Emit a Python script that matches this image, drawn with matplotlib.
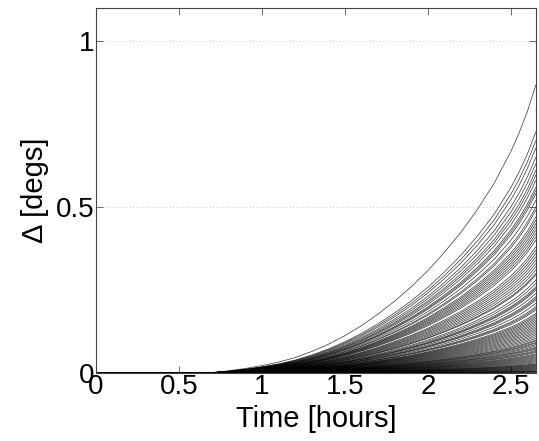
import matplotlib
matplotlib.use("Agg")
import matplotlib.pyplot as plt
import numpy as np

# Sample times (hours)
times = [0.0, 0.3, 0.6, 0.7, 0.8, 0.9, 1.0, 1.1, 1.2, 1.3, 1.4, 1.5, 1.6, 1.7,
         1.8, 1.9, 2.0, 2.1, 2.2, 2.3, 2.4, 2.5, 2.55, 2.6, 2.65]
# Normalised growth profile (fraction of final value)
profile = [0.0, 0.0, 0.0, 0.002, 0.008, 0.016, 0.026, 0.038, 0.054, 0.075,
           0.100, 0.130, 0.165, 0.205, 0.250, 0.300, 0.356, 0.420, 0.490,
           0.570, 0.660, 0.770, 0.835, 0.910, 1.0]
# Final values (degs) of each curve at the right edge
final_values = [0.867, 0.726, 0.70, 0.678, 0.65, 0.63, 0.61, 0.596, 0.58, 0.56,
                0.55, 0.54, 0.52, 0.50, 0.49, 0.47, 0.46, 0.45, 0.44, 0.43,
                0.42, 0.41, 0.40, 0.38, 0.37, 0.36, 0.35, 0.34, 0.33, 0.32,
                0.31, 0.30, 0.295, 0.28, 0.27, 0.26, 0.255, 0.25, 0.24, 0.23,
                0.225, 0.22, 0.21, 0.20, 0.195, 0.19, 0.18, 0.175, 0.17, 0.165,
                0.16, 0.155, 0.15, 0.145, 0.14, 0.135, 0.13, 0.125, 0.12, 0.115,
                0.11, 0.105, 0.10, 0.097, 0.093, 0.09, 0.086, 0.082, 0.078, 0.075,
                0.072, 0.068, 0.065, 0.062, 0.058, 0.055, 0.052, 0.049, 0.046, 0.043,
                0.040, 0.037, 0.034, 0.031, 0.028, 0.026, 0.024, 0.022, 0.020, 0.018,
                0.016, 0.014, 0.012, 0.010, 0.008, 0.006, 0.005, 0.004, 0.003, 0.002]
x_ticks = [0, 0.5, 1, 1.5, 2, 2.5]
x_ticklabels = ["0", "0.5", "1", "1.5", "2", "2.5"]
y_ticks = [0, 0.5, 1]
y_ticklabels = ["0", "0.5", "1"]

plt.rcParams['font.family'] = ['Liberation Sans', 'DejaVu Sans']

fig = plt.figure(figsize=(5.39, 4.41), dpi=100)
ax = fig.add_axes([0.178, 0.154, 0.816, 0.828])

t = np.array(times)
p = np.array(profile)
for fv in final_values:
    ax.plot(t, fv * p, color='black', linewidth=0.5, alpha=0.8)

ax.set_xlim(0, 2.65)
ax.set_ylim(0, 1.1)
ax.set_xticks(x_ticks)
ax.set_xticklabels(x_ticklabels)
ax.set_yticks(y_ticks)
ax.set_yticklabels(y_ticklabels)
ax.tick_params(direction='in', top=True, right=True, length=5, width=0.6,
               labelsize=20, pad=1, color='#555555')
ax.yaxis.grid(True, linestyle=(0, (1, 3)), color='#bbbbbb', linewidth=0.6)
for s in ax.spines.values():
    s.set_linewidth(0.8)
    s.set_color('#444444')

ax.set_xlabel('Time [hours]', fontsize=21, labelpad=3)
ax.set_ylabel('Δ [degs]', fontsize=21, labelpad=5)

fig.savefig('out.png', dpi=100)
